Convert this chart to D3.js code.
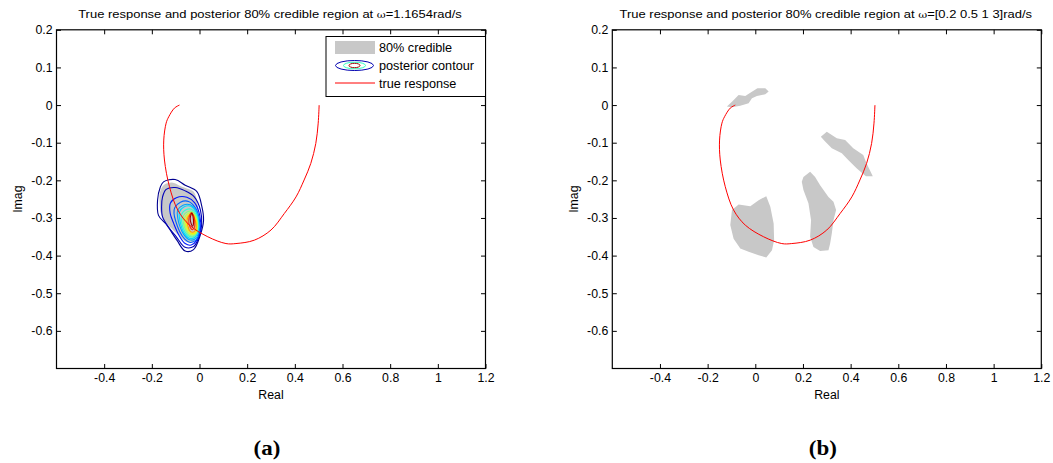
<!DOCTYPE html>
<html>
<head>
<meta charset="utf-8">
<script src="https://cdn.jsdelivr.net/npm/d3@7"></script>
<style>
  body { margin: 0; background: #fff; }
  svg { display: block; font-family: 'Liberation Sans', Arial, sans-serif; }
  svg text { font-family: 'Liberation Sans', Arial, sans-serif; }
  svg text.tag { font-family: 'Liberation Serif', 'Times New Roman', serif; font-weight: bold; }
  svg tspan.sym { font-family: 'DejaVu Serif', serif; }
</style>
</head>
<body>
<svg id="fig" width="1053" height="463"></svg>
<script>
// ---- axis ticks ----
const xTicks = [-0.4, -0.2, 0, 0.2, 0.4, 0.6, 0.8, 1, 1.2];
const yTicks = [0.2, 0.1, 0, -0.1, -0.2, -0.3, -0.4, -0.5, -0.6];

// ---- true frequency response (Re, Im) ----
const trueResponse = [
  [0.502, 0.000], [0.498, -0.048], [0.488, -0.102], [0.467, -0.155], [0.439, -0.199],
  [0.405, -0.244], [0.356, -0.288], [0.300, -0.332], [0.230, -0.359], [0.153, -0.368],
  [0.111, -0.368], [0.035, -0.350], [-0.042, -0.319], [-0.091, -0.279], [-0.126, -0.217],
  [-0.147, -0.146], [-0.150, -0.093], [-0.140, -0.048], [-0.129, -0.031], [-0.105, -0.008],
  [-0.084, 0.000]
];

// ---- (a) 80% credible region at w = 1.1654 rad/s ----
const credibleA = [
  [-0.167, -0.235], [-0.151, -0.213], [-0.116, -0.206], [-0.081, -0.215], [-0.053, -0.222],
  [-0.025, -0.230], [-0.011, -0.253], [-0.004, -0.284], [0.000, -0.319], [-0.011, -0.346],
  [-0.028, -0.364], [-0.053, -0.364], [-0.081, -0.350], [-0.109, -0.333], [-0.144, -0.310],
  [-0.162, -0.288], [-0.167, -0.262]
];

// ---- (a) posterior density contours, outermost to innermost ----
const contour1 = [[-0.151,-0.204],[-0.102,-0.198],[-0.060,-0.213],[-0.011,-0.230],[0.010,-0.270],[0.017,-0.306],[0.003,-0.346],[-0.025,-0.384],[-0.060,-0.388],[-0.095,-0.359],[-0.137,-0.319],[-0.172,-0.293],[-0.176,-0.253],[-0.165,-0.219]];
const contour2 = [[-0.155,-0.244],[-0.140,-0.224],[-0.102,-0.219],[-0.060,-0.228],[-0.022,-0.244],[0.004,-0.279],[0.009,-0.319],[-0.003,-0.352],[-0.025,-0.376],[-0.063,-0.377],[-0.095,-0.352],[-0.130,-0.324],[-0.155,-0.297],[-0.159,-0.270]];
const contour3 = [[-0.122,-0.260],[-0.097,-0.246],[-0.053,-0.245],[-0.020,-0.260],[0.001,-0.293],[0.004,-0.330],[-0.011,-0.359],[-0.035,-0.372],[-0.060,-0.368],[-0.086,-0.346],[-0.108,-0.315],[-0.123,-0.288]];
const contour4 = [[-0.104,-0.273],[-0.080,-0.258],[-0.046,-0.256],[-0.016,-0.274],[0.000,-0.306],[-0.002,-0.340],[-0.015,-0.359],[-0.039,-0.365],[-0.062,-0.356],[-0.084,-0.335],[-0.100,-0.308],[-0.107,-0.288]];
const contour5 = [[-0.092,-0.280],[-0.069,-0.266],[-0.039,-0.265],[-0.014,-0.282],[-0.003,-0.313],[-0.005,-0.341],[-0.019,-0.356],[-0.042,-0.358],[-0.065,-0.345],[-0.082,-0.323],[-0.091,-0.301]];
const contour6 = [[-0.084,-0.284],[-0.064,-0.270],[-0.036,-0.269],[-0.014,-0.284],[-0.004,-0.310],[-0.007,-0.337],[-0.021,-0.352],[-0.043,-0.354],[-0.064,-0.341],[-0.078,-0.319]];
const contour7 = [[-0.075,-0.290],[-0.057,-0.278],[-0.034,-0.277],[-0.014,-0.291],[-0.007,-0.315],[-0.010,-0.339],[-0.024,-0.349],[-0.043,-0.349],[-0.061,-0.337],[-0.073,-0.317]];
const contour8 = [[-0.068,-0.295],[-0.052,-0.284],[-0.031,-0.283],[-0.014,-0.296],[-0.008,-0.319],[-0.013,-0.340],[-0.025,-0.347],[-0.042,-0.346],[-0.057,-0.333],[-0.067,-0.315]];
const contour9 = [[-0.063,-0.300],[-0.048,-0.288],[-0.029,-0.287],[-0.014,-0.301],[-0.010,-0.322],[-0.014,-0.339],[-0.027,-0.344],[-0.041,-0.342],[-0.054,-0.331],[-0.061,-0.315]];
const contour10 = [[-0.057,-0.304],[-0.043,-0.291],[-0.028,-0.291],[-0.015,-0.304],[-0.011,-0.324],[-0.015,-0.337],[-0.027,-0.341],[-0.039,-0.339],[-0.050,-0.328]];
const contour11 = [[-0.052,-0.306],[-0.039,-0.291],[-0.027,-0.294],[-0.017,-0.308],[-0.014,-0.325],[-0.020,-0.335],[-0.031,-0.338],[-0.042,-0.333],[-0.049,-0.320]];
const contour12 = [[-0.045,-0.304],[-0.035,-0.286],[-0.025,-0.293],[-0.020,-0.310],[-0.021,-0.324],[-0.029,-0.331],[-0.039,-0.325]];
const contour13 = [[-0.039,-0.301],[-0.032,-0.286],[-0.027,-0.297],[-0.025,-0.313],[-0.029,-0.322],[-0.036,-0.313]];

// ---- (b) 80% credible regions at w = 0.2, 0.5, 1, 3 rad/s ----
const credibleB1 = [[-0.119,-0.004],[-0.098,0.009],[-0.070,0.027],[-0.042,0.024],[-0.021,0.033],[0.009,0.045],[0.042,0.045],[0.056,0.036],[0.042,0.029],[0.007,0.024],[-0.014,0.018],[-0.028,0.005],[-0.063,-0.002],[-0.098,-0.006]];
const credibleB2 = [[0.275,-0.084],[0.300,-0.071],[0.342,-0.088],[0.377,-0.093],[0.411,-0.115],[0.453,-0.133],[0.467,-0.155],[0.493,-0.189],[0.464,-0.189],[0.425,-0.168],[0.390,-0.146],[0.363,-0.128],[0.321,-0.115],[0.293,-0.097]];
const credibleB3 = [[0.202,-0.191],[0.230,-0.177],[0.251,-0.191],[0.272,-0.213],[0.307,-0.244],[0.328,-0.257],[0.339,-0.279],[0.328,-0.306],[0.321,-0.341],[0.314,-0.368],[0.307,-0.386],[0.272,-0.388],[0.244,-0.377],[0.230,-0.350],[0.234,-0.306],[0.223,-0.261],[0.202,-0.226],[0.195,-0.204]];
const credibleB4 = [[-0.098,-0.279],[-0.070,-0.264],[-0.021,-0.269],[0.014,-0.253],[0.046,-0.242],[0.063,-0.270],[0.077,-0.315],[0.079,-0.359],[0.070,-0.386],[0.046,-0.405],[0.014,-0.399],[-0.028,-0.390],[-0.063,-0.381],[-0.091,-0.355],[-0.105,-0.319]];

const contourColors = ["#000090", "#0000B8", "#0018FF", "#0060FF", "#00A0FF", "#00DCFF",
                       "#30FFD0", "#80FF80", "#C0FF40", "#FFEE00", "#FFA000", "#FF3000", "#A00000"];
const contours = [contour1, contour2, contour3, contour4, contour5, contour6, contour7,
                  contour8, contour9, contour10, contour11, contour12, contour13];

const svg = d3.select("#fig");
const FONT = 12.3;
const GRAY = "#C8C8C8";

function label(g, x, y, anchor, size, sx) {
  return g.append("g").attr("transform", `translate(${x},${y}) scale(${sx || 1},1)`)
    .append("text").attr("text-anchor", anchor || "middle")
    .attr("font-size", size || FONT).attr("fill", "#000");
}

function panel(x0, x1, title, tag) {
  const x = d3.scaleLinear().domain([-0.6, 1.2]).range([x0, x1]);
  const y = d3.scaleLinear().domain([-0.7, 0.2]).range([368.5, 29.8]);
  const g = svg.append("g");
  const fmt = d => String(+d.toFixed(1));

  g.append("rect").attr("x", x0).attr("y", y(0.2)).attr("width", x1 - x0)
    .attr("height", y(-0.7) - y(0.2)).attr("fill", "#fff");
  const plot = g.append("g");

  // axes with inward ticks on all four sides
  const axB = g.append("g").attr("transform", `translate(0,${y(-0.7)})`)
    .call(d3.axisBottom(x).tickValues(xTicks).tickSize(-4.5).tickSizeOuter(0).tickPadding(5).tickFormat(fmt));
  const axT = g.append("g").attr("transform", `translate(0,${y(0.2)})`)
    .call(d3.axisTop(x).tickValues(xTicks).tickSize(-4.5).tickSizeOuter(0).tickFormat(""));
  const axL = g.append("g").attr("transform", `translate(${x0},0)`)
    .call(d3.axisLeft(y).tickValues(yTicks).tickSize(-4.5).tickSizeOuter(0).tickPadding(4).tickFormat(fmt));
  const axR = g.append("g").attr("transform", `translate(${x1},0)`)
    .call(d3.axisRight(y).tickValues(yTicks).tickSize(-4.5).tickSizeOuter(0).tickFormat(""));
  [axB, axT, axL, axR].forEach(a => {
    a.attr("font-family", null).attr("font-size", null);
    a.select(".domain").remove();
    a.selectAll("line").attr("stroke", "#000").attr("stroke-width", 1);
    a.selectAll("text").attr("font-size", FONT).attr("fill", "#000");
  });

  g.append("rect").attr("x", x0).attr("y", y(0.2)).attr("width", x1 - x0)
    .attr("height", y(-0.7) - y(0.2)).attr("fill", "none").attr("stroke", "#000").attr("stroke-width", 1.2);

  // title and axis labels
  const cx = (x0 + x1) / 2;
  const tt = label(g, cx - 1, 18, "middle", 11.8, 1.1);
  tt.append("tspan").text(title[0]);
  tt.append("tspan").attr("class", "sym").attr("font-size", 10).text("ω");
  tt.append("tspan").text(title[1]);
  label(g, cx, 398.5, "middle", FONT).text("Real");
  g.append("text").attr("transform", `translate(${x0 - 34.5},${(y(0.2) + y(-0.7)) / 2}) rotate(-90)`)
    .attr("text-anchor", "middle").attr("font-size", FONT).attr("fill", "#000").text("Imag");
  label(g, cx - 4, 455, "middle", 20, 1.15).attr("class", "tag").text(tag);

  return { x, y, plot, g };
}

// ---------- panel (a) ----------
const A = panel(56.5, 485.5, ["True response and posterior 80% credible region at ", "=1.1654rad/s"], "(a)");
const smoothClosed = d3.line().x(d => A.x(d[0])).y(d => A.y(d[1])).curve(d3.curveCatmullRomClosed.alpha(0.5));
A.plot.append("path").attr("d", smoothClosed(credibleA)).attr("fill", GRAY).attr("stroke", "none");
contours.forEach((c, i) => {
  A.plot.append("path").attr("d", smoothClosed(c)).attr("fill", "none")
    .attr("stroke", contourColors[i]).attr("stroke-width", 1.1);
});
A.plot.append("path")
  .attr("d", d3.line().x(d => A.x(d[0])).y(d => A.y(d[1])).curve(d3.curveCatmullRom.alpha(0.5))(trueResponse))
  .attr("fill", "none").attr("stroke", "#FF0000").attr("stroke-width", 1);

// legend
const lg = A.g.append("g");
lg.append("rect").attr("x", 326).attr("y", 36.5).attr("width", 159.5).attr("height", 60)
  .attr("fill", "#fff").attr("stroke", "#000").attr("stroke-width", 1);
lg.append("rect").attr("x", 335).attr("y", 41).attr("width", 40).attr("height", 13).attr("fill", GRAY);
lg.append("ellipse").attr("cx", 354.5).attr("cy", 65.5).attr("rx", 19).attr("ry", 5)
  .attr("fill", "none").attr("stroke", "#0000B0").attr("stroke-width", 1);
lg.append("ellipse").attr("cx", 354.5).attr("cy", 65.5).attr("rx", 11).attr("ry", 3.3)
  .attr("fill", "none").attr("stroke", "#30FFC0").attr("stroke-width", 1);
lg.append("ellipse").attr("cx", 354.5).attr("cy", 65.5).attr("rx", 5.5).attr("ry", 2.2)
  .attr("fill", "none").attr("stroke", "#A00000").attr("stroke-width", 1);
lg.append("line").attr("x1", 335).attr("x2", 375).attr("y1", 83).attr("y2", 83)
  .attr("stroke", "#FF0000").attr("stroke-width", 1);
[["80% credible", 51.5], ["posterior contour", 69.5], ["true response", 87.5]].forEach(([s, yy]) => {
  label(lg, 379, yy, "start", FONT, 1.03).text(s);
});

// ---------- panel (b) ----------
const B = panel(612.3, 1041.3, ["True response and posterior 80% credible region at ", "=[0.2 0.5 1 3]rad/s"], "(b)");
const poly = d3.line().x(d => B.x(d[0])).y(d => B.y(d[1])).curve(d3.curveLinearClosed);
[credibleB1, credibleB2, credibleB3, credibleB4].forEach(c => {
  B.plot.append("path").attr("d", poly(c)).attr("fill", GRAY).attr("stroke", "none");
});
B.plot.append("path")
  .attr("d", d3.line().x(d => B.x(d[0])).y(d => B.y(d[1])).curve(d3.curveCatmullRom.alpha(0.5))(trueResponse))
  .attr("fill", "none").attr("stroke", "#FF0000").attr("stroke-width", 1);
</script>
</body>
</html>
